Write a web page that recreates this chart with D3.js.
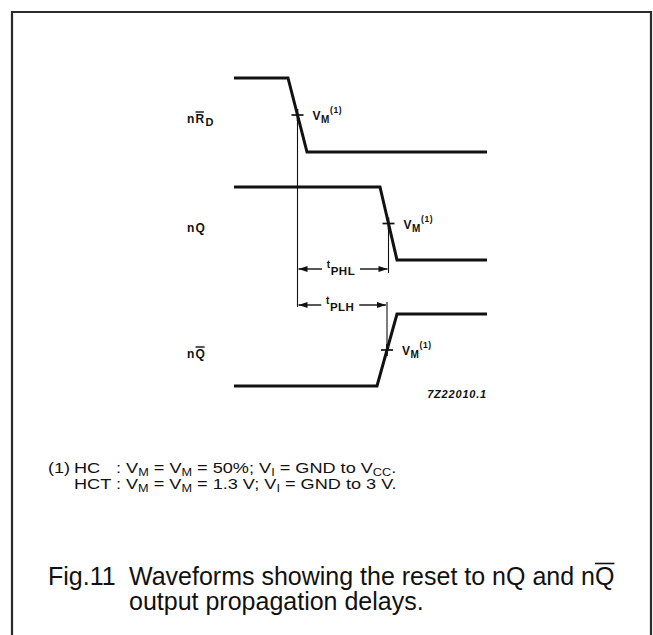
<!DOCTYPE html>
<html><head><meta charset="utf-8">
<script src="https://cdn.jsdelivr.net/npm/d3@7"></script>
<style>body{margin:0;background:#fff} svg{display:block}</style>
</head><body>
<svg id="c" width="653" height="635"></svg>
<script>
// ---- data ----
const signalNames = ["nRD", "nQ", "nQbar"];
const nRD_time   = [0, 54, 73, 253];
const nRD_level  = [308, 308, 234, 234];
const nQ_time    = [0, 146, 163, 253];
const nQ_level   = [199, 199, 126, 126];
const nQbar_time = [0, 143, 163, 253];
const nQbar_level= [0, 0, 72, 72];
const timeDomain = [0, 253];
const levelDomain = [0, 308];
const delayNames = ["PHL", "PLH"];
const figureId = "7Z22010.1";
const captionNumber = "Fig.11";
const captionLine1 = "Waveforms showing the reset to nQ and nQ";
const captionLine2 = "output propagation delays.";
// footnote runs: [text, isSubscript]
const footnote1 = [[": V", 0], ["M", 1], [" = V", 0], ["M", 1], [" = 50%; V", 0], ["I", 1], [" = GND to V", 0], ["CC", 1], [".", 0]];
const footnote2 = [["HCT : V", 0], ["M", 1], [" = V", 0], ["M", 1], [" = 1.3 V; V", 0], ["I", 1], [" = GND to 3 V.", 0]];

// ---- layout ----
const svg = d3.select("#c");
const x = d3.scaleLinear().domain(timeDomain).range([234, 487]);
const y = d3.scaleLinear().domain(levelDomain).range([386, 78]);
const ink = "#111";

// frame
svg.append("path").attr("d", "M12,640 V12 H651 V640")
  .attr("fill", "none").attr("stroke", "#2b2b2b").attr("stroke-width", 2.2);

const signals = [
  {name: signalNames[0], t: nRD_time, v: nRD_level},
  {name: signalNames[1], t: nQ_time, v: nQ_level},
  {name: signalNames[2], t: nQbar_time, v: nQbar_level}
];
const line = d3.line().x(d => x(d[0])).y(d => y(d[1]));
signals.forEach(s => {
  const pts = s.t.map((t, i) => [t, s.v[i]]);
  svg.append("path").attr("d", line(pts)).attr("fill", "none")
    .attr("stroke", ink).attr("stroke-width", 3).attr("stroke-linejoin", "miter");
  s.mid = [(s.t[1] + s.t[2]) / 2, (s.v[1] + s.v[2]) / 2];
  s.hi = Math.max(...s.v); s.lo = Math.min(...s.v);
});

const lab = {"font-family": "Liberation Sans, Arial, sans-serif", "font-weight": "bold", fill: ink};
function applyAttrs(sel, o) { for (const k in o) sel.attr(k, o[k]); return sel; }

// VM ticks and labels
signals.forEach(s => {
  const mx = x(s.mid[0]), my = y(s.mid[1]);
  svg.append("line").attr("x1", mx - 6).attr("x2", mx + 6).attr("y1", my).attr("y2", my)
    .attr("stroke", ink).attr("stroke-width", 1.7);
  svg.append("line").attr("x1", mx).attr("x2", mx).attr("y1", my - 6).attr("y2", my + 6)
    .attr("stroke", ink).attr("stroke-width", 1.6);
  const t = applyAttrs(svg.append("text"), lab).attr("x", mx + 15).attr("y", my + 5)
    .attr("font-size", 12).attr("letter-spacing", 0.6);
  t.append("tspan").text("V");
  t.append("tspan").attr("dy", 3).attr("font-size", 10).text("M");
  t.append("tspan").attr("dy", -10).attr("font-size", 8.5).text("(1)");
});

// signal names
const labelX = 187;
function overbar(textSel, x0base, idx, yy) {
  const node = textSel.node();
  const x0 = x0base + node.getSubStringLength(0, idx);
  const w = node.getSubStringLength(idx, 1);
  svg.append("line").attr("x1", x0).attr("x2", x0 + w - 1.5).attr("y1", yy).attr("y2", yy)
    .attr("stroke", ink).attr("stroke-width", 1.4);
}
signals.forEach((s, i) => {
  const cy = (y(s.hi) + y(s.lo)) / 2 + 8;
  const t = applyAttrs(svg.append("text"), lab).attr("x", labelX).attr("y", cy)
    .attr("font-size", 12).attr("letter-spacing", 1.2);
  if (i === 0) {
    t.append("tspan").text("n");
    t.append("tspan").text("R");
    t.append("tspan").attr("dy", 3).attr("font-size", 11).text("D");
    overbar(t, labelX, 1, cy - 11);
  } else if (i === 1) {
    t.text("nQ");
  } else {
    t.text("nQ");
    overbar(t, labelX, 1, cy - 11);
  }
});

// reference verticals
const xr = x(signals[0].mid[0]);
const xPHL = x(signals[1].mid[0]);
const xPLH = x(signals[2].mid[0]);
const yPHL = y(signals[1].lo) + 9;
const yPLH = y(signals[2].hi) - 9;
function vline(xx, y1, y2) {
  svg.append("line").attr("x1", xx).attr("x2", xx).attr("y1", y1).attr("y2", y2)
    .attr("stroke", ink).attr("stroke-width", 1.1);
}
vline(xr, y(signals[0].mid[1]), yPLH + 2);
vline(xPHL, y(signals[1].mid[1]), yPHL + 4);
vline(xPLH, yPLH - 3, y(signals[2].mid[1]) + 4);

// delay arrows
function arrow(xa, xb, yy, name) {
  const cx = (xa + xb) / 2 - 2;
  const half = 19;
  [[xa + 1, cx - half], [xb - 1, cx + half]].forEach(([tip, tail]) => {
    svg.append("line").attr("x1", tail).attr("x2", tip).attr("y1", yy).attr("y2", yy)
      .attr("stroke", ink).attr("stroke-width", 1.4);
    const dir = tip < tail ? 1 : -1;
    svg.append("path").attr("d", `M${tip},${yy} L${tip + dir * 9},${yy - 3} L${tip + dir * 9},${yy + 3} Z`)
      .attr("fill", ink);
  });
  const t = applyAttrs(svg.append("text"), lab).attr("x", cx).attr("y", yy - 1)
    .attr("text-anchor", "middle").attr("font-size", 10).attr("letter-spacing", 0.5);
  t.append("tspan").text("t");
  t.append("tspan").attr("dy", 7).attr("font-size", 11.5).text(name);
}
arrow(xr, xPHL, yPHL, delayNames[0]);
arrow(xr, xPLH, yPLH, delayNames[1]);

// figure id
applyAttrs(svg.append("text"), lab).attr("x", 487).attr("y", 398).attr("text-anchor", "end")
  .attr("font-size", 11).attr("font-style", "italic").attr("letter-spacing", 0.8).text(figureId);

// footnote (horizontally stretched like the reference)
const fn = {"font-family": "Liberation Sans, Arial, sans-serif", fill: "#111"};
const fg = svg.append("g");
function rich(t, runs) {
  let shifted = false;
  runs.forEach(([txt, isSub]) => {
    const ts = t.append("tspan").text(txt);
    if (isSub) { ts.attr("dy", 3).attr("font-size", 10.5); shifted = true; }
    else if (shifted) { ts.attr("dy", -3); shifted = false; }
  });
}
const FS = 15;
const f2 = applyAttrs(fg.append("text"), fn).attr("font-size", FS).attr("y", 489.5);
rich(f2, footnote2);
const w2 = f2.node().getComputedTextLength();
const k = (397 - 74) / w2;
const pre = xx => 48 + (xx - 48) / k;
f2.attr("x", pre(74));
const colonX = pre(74) + f2.node().getSubStringLength(0, 4);
const f1a = applyAttrs(fg.append("text"), fn).attr("font-size", FS).attr("y", 473.5);
f1a.append("tspan").attr("x", 48).text("(1)");
f1a.append("tspan").attr("x", pre(74)).text("HC");
const f1b = applyAttrs(fg.append("text"), fn).attr("font-size", FS).attr("y", 473.5).attr("x", colonX);
rich(f1b, footnote1);
fg.attr("transform", `translate(48,0) scale(${k},1) translate(-48,0)`);

// caption
const cap = {"font-family": "Liberation Sans, Arial, sans-serif", fill: "#111", "font-size": 25};
applyAttrs(svg.append("text"), cap).attr("x", 48).attr("y", 585).text(captionNumber);
const c1 = applyAttrs(svg.append("text"), cap).attr("x", 129).attr("y", 585).text(captionLine1);
applyAttrs(svg.append("text"), cap).attr("x", 129).attr("y", 610).text(captionLine2);
{
  const node = c1.node();
  const n = captionLine1.length;
  const x0 = 129 + node.getSubStringLength(0, n - 1);
  const w = node.getSubStringLength(n - 1, 1);
  svg.append("line").attr("x1", x0).attr("x2", x0 + w).attr("y1", 563.5).attr("y2", 563.5)
    .attr("stroke", "#111").attr("stroke-width", 1.6);
}
</script>
</body></html>
